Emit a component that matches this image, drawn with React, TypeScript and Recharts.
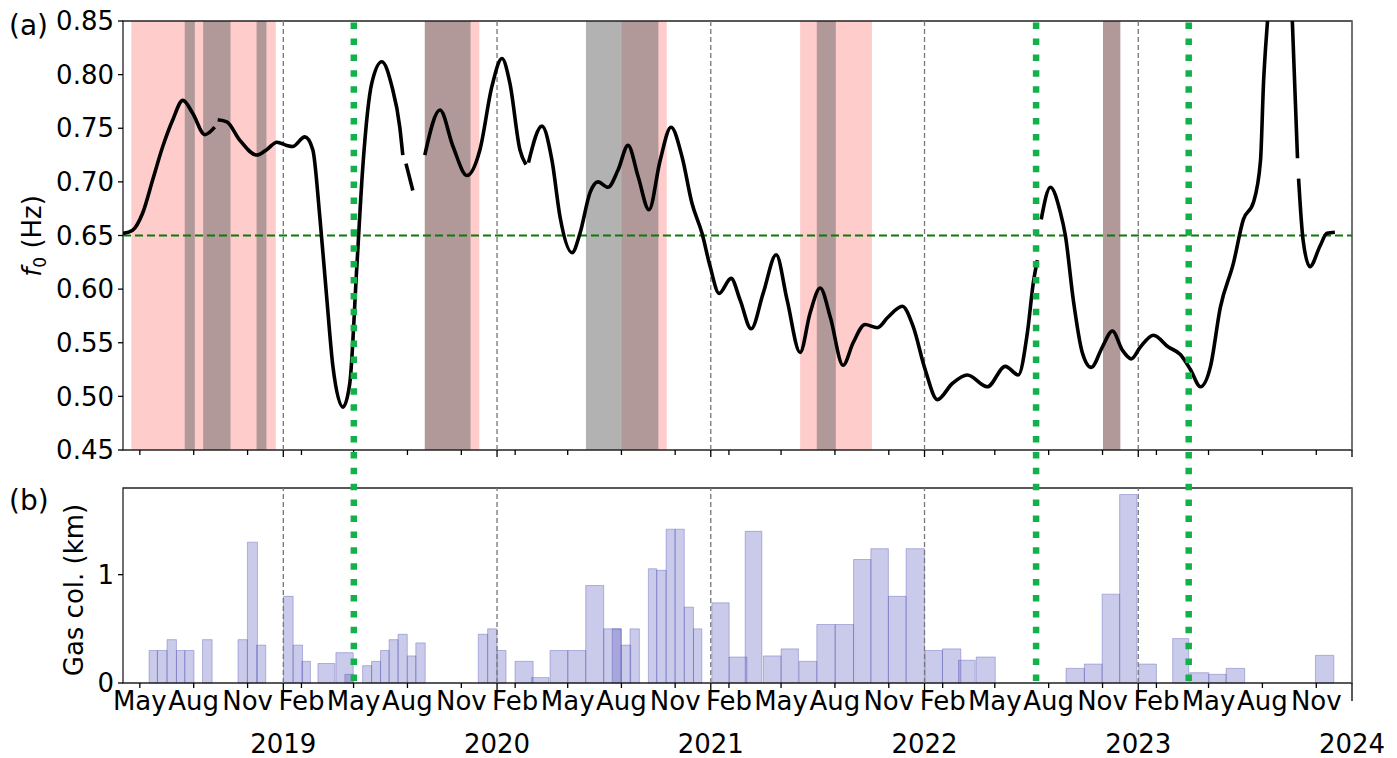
import React from "react";
import { ComposedChart, Line, XAxis, YAxis, ReferenceArea, ReferenceLine } from "recharts";

const FONT = "'DejaVu Sans', sans-serif";
const X_DOMAIN: [number, number] = [2018.25, 2024];

// f0 record, time in decimal years; null marks a break in the curve
const f0Time = [
  2018.25, 2018.295, 2018.342, 2018.389, 2018.436, 2018.483, 2018.53, 2018.576, 2018.633, 2018.679,
  2018.686, 2018.693, 2018.736, 2018.796, 2018.876, 2018.922, 2018.97, 2019.016, 2019.044, 2019.101,
  2019.138, 2019.171, 2019.204, 2019.232, 2019.279, 2019.311, 2019.344, 2019.372, 2019.414, 2019.461,
  2019.508, 2019.545, 2019.559, 2019.566, 2019.574, 2019.606, 2019.634, 2019.662, 2019.733, 2019.794,
  2019.859, 2019.92, 2019.976, 2020.023, 2020.06, 2020.107, 2020.135, 2020.14, 2020.147, 2020.21,
  2020.257, 2020.295, 2020.351, 2020.388, 2020.435, 2020.472, 2020.519, 2020.566, 2020.613, 2020.66,
  2020.711, 2020.763, 2020.814, 2020.866, 2020.912, 2020.959, 2020.997, 2021.039, 2021.095, 2021.137,
  2021.189, 2021.245, 2021.306, 2021.357, 2021.418, 2021.465, 2021.512, 2021.559, 2021.619, 2021.666,
  2021.722, 2021.779, 2021.83, 2021.896, 2021.947, 2022.003, 2022.06, 2022.13, 2022.2, 2022.294,
  2022.378, 2022.439, 2022.481, 2022.509, 2022.528, 2022.537, 2022.546, 2022.589, 2022.635, 2022.659,
  2022.696, 2022.738, 2022.78, 2022.832, 2022.879, 2022.926, 2022.968, 2023.01, 2023.071, 2023.141,
  2023.197, 2023.244, 2023.291, 2023.338, 2023.384, 2023.445, 2023.492, 2023.539, 2023.572, 2023.586,
  2023.604, 2023.637, 2023.665, 2023.698, 2023.721, 2023.745, 2023.747, 2023.75, 2023.771, 2023.803,
  2023.85, 2023.883, 2023.92,
];
const f0Hz = [
  0.652, 0.655, 0.671, 0.702, 0.733, 0.758, 0.776, 0.764, 0.744, 0.751,
  null, 0.758, 0.756, 0.739, 0.725, 0.73, 0.737, 0.734, 0.733, 0.742,
  0.73, 0.667, 0.59, 0.528, 0.49, 0.512, 0.621, 0.714, 0.792, 0.812,
  0.789, 0.751, 0.725, null, 0.717, 0.692, null, 0.725, 0.767, 0.733,
  0.706, 0.73, 0.789, 0.815, 0.792, 0.73, 0.716, null, 0.718, 0.752,
  0.72, 0.667, 0.634, 0.652, 0.69, 0.7, 0.695, 0.711, 0.734, 0.705,
  0.674, 0.72, 0.751, 0.723, 0.68, 0.652, 0.621, 0.596, 0.61, 0.59,
  0.563, 0.596, 0.632, 0.59, 0.541, 0.578, 0.601, 0.574, 0.529, 0.55,
  0.567, 0.564, 0.574, 0.584, 0.565, 0.525, 0.497, 0.512, 0.52, 0.509,
  0.528, 0.52, 0.559, 0.606, 0.627, null, 0.665, 0.695, 0.672, 0.65,
  0.59, 0.541, 0.527, 0.546, 0.561, 0.543, 0.535, 0.546, 0.557, 0.546,
  0.539, 0.525, 0.509, 0.528, 0.583, 0.624, 0.665, 0.681, 0.72, 0.792,
  0.848, 0.92, 0.94, 0.92, 0.849, 0.722, null, 0.703, 0.646, 0.621,
  0.64, 0.652, 0.653,
];

// gas column bars
const barStart = [
  2018.372, 2018.411, 2018.456, 2018.5, 2018.539, 2018.622, 2018.788, 2018.832, 2018.875, 2019.001,
  2019.046, 2019.087, 2019.162, 2019.246, 2019.288, 2019.371, 2019.413, 2019.455, 2019.495, 2019.537,
  2019.58, 2019.62, 2019.912, 2019.956, 2020.0, 2020.084, 2020.162, 2020.248, 2020.331, 2020.415,
  2020.499, 2020.539, 2020.581, 2020.622, 2020.708, 2020.747, 2020.791, 2020.833, 2020.876, 2020.919,
  2021.005, 2021.086, 2021.161, 2021.246, 2021.329, 2021.413, 2021.496, 2021.582, 2021.668, 2021.749,
  2021.831, 2021.914, 2022.003, 2022.084, 2022.159, 2022.242, 2022.662, 2022.748, 2022.831, 2022.913,
  2023.002, 2023.161, 2023.241, 2023.33, 2023.411, 2023.829,
];
const barEnd = [
  2018.411, 2018.456, 2018.5, 2018.539, 2018.582, 2018.667, 2018.832, 2018.879, 2018.918, 2019.046,
  2019.09, 2019.127, 2019.241, 2019.327, 2019.327, 2019.413, 2019.455, 2019.495, 2019.537, 2019.58,
  2019.62, 2019.664, 2019.956, 2020.0, 2020.042, 2020.169, 2020.243, 2020.331, 2020.415, 2020.499,
  2020.581, 2020.581, 2020.625, 2020.666, 2020.747, 2020.791, 2020.833, 2020.876, 2020.919, 2020.958,
  2021.086, 2021.169, 2021.239, 2021.329, 2021.41, 2021.496, 2021.582, 2021.668, 2021.749, 2021.831,
  2021.914, 2022.0, 2022.084, 2022.17, 2022.237, 2022.331, 2022.748, 2022.831, 2022.913, 2022.994,
  2023.085, 2023.236, 2023.33, 2023.411, 2023.498, 2023.915,
];
const gasCol = [
  0.3, 0.3, 0.4, 0.3, 0.3, 0.4, 0.4, 1.3, 0.35, 0.8,
  0.35, 0.2, 0.18, 0.28, 0.08, 0.16, 0.2, 0.3, 0.4, 0.45,
  0.25, 0.37, 0.45, 0.5, 0.3, 0.2, 0.05, 0.3, 0.3, 0.9,
  0.5, 0.5, 0.35, 0.5, 1.055, 1.04, 1.42, 1.42, 0.7, 0.5,
  0.74, 0.24, 1.4, 0.25, 0.315, 0.2, 0.54, 0.54, 1.14, 1.24,
  0.8, 1.24, 0.3, 0.315, 0.21, 0.24, 0.135, 0.175, 0.82, 1.74,
  0.175, 0.41, 0.095, 0.08, 0.135, 0.255,
];

// shaded periods
const pinkStart = [2018.289, 2019.662, 2020.583, 2021.418, 2022.835];
const pinkEnd = [2018.965, 2019.917, 2020.794, 2021.754, 2022.916];
const grayStart = [2018.539, 2018.625, 2018.875, 2019.662, 2020.416, 2021.496, 2022.835];
const grayEnd = [2018.586, 2018.753, 2018.921, 2019.876, 2020.755, 2021.585, 2022.916];

const eventTimes = [2019.33, 2022.522, 2023.236];

const yearTicks = [2019, 2020, 2021, 2022, 2023, 2024];
const monthLabels = ["Feb", "May", "Aug", "Nov"];
const monthNums = [2, 5, 8, 11];
const f0Ticks = [0.45, 0.5, 0.55, 0.6, 0.65, 0.7, 0.75, 0.8, 0.85];
const gasTicks = [0, 1];

function decYear(y: number, m: number) {
  const s = Date.UTC(y, 0, 1);
  return y + (Date.UTC(y, m - 1, 1) - s) / (Date.UTC(y + 1, 0, 1) - s);
}

const monthTicks: { t: number; label: string }[] = [];
for (let y = 2018; y <= 2023; y++) {
  monthNums.forEach((m, i) => {
    const t = decYear(y, m);
    if (t > X_DOMAIN[0]) monthTicks.push({ t, label: monthLabels[i] });
  });
}
const timeTicks = [...monthTicks.map((m) => m.t), ...yearTicks];
const labelOf = new Map(monthTicks.map((m) => [m.t, m.label]));

const f0Data = f0Time.map((t, i) => ({ t, f: f0Hz[i] }));
const gasData = gasCol.map((v, i) => ({ t: (barStart[i] + barEnd[i]) / 2, v }));
const eventData = eventTimes.map((t) => ({ t, v: 0.5 }));

function TimeTick({ x, y, payload, showLabels }: any) {
  const v = payload.value;
  const isYear = Number.isInteger(v);
  const len = isYear ? (showLabels ? 18 : 7) : 5;
  return (
    <g>
      <line x1={x} x2={x} y1={y} y2={y + len} stroke="#000" strokeWidth={1.3} />
      {showLabels && (
        <text x={x} y={isYear ? y + 70 : y + 27} textAnchor="middle"
          fontSize={26} fontFamily={FONT} fill="#000">
          {isYear ? v : labelOf.get(v)}
        </text>
      )}
    </g>
  );
}

const yTick = { fill: "#000", fontSize: 26, fontFamily: FONT };

export default function App() {
  return (
    <div style={{ position: "absolute", left: 0, top: 0, width: 1397, height: 758, background: "#fff" }}>
      {/* (a) f0 */}
      <div style={{ position: "absolute", left: 0, top: 0 }}>
        <ComposedChart width={1397} height={470} data={f0Data}
          margin={{ top: 21, right: 45, bottom: 0, left: 0 }}>
          {pinkStart.map((s, i) => (
            <ReferenceArea key={"p" + i} x1={s} x2={pinkEnd[i]} fill="#ff0000" fillOpacity={0.2} stroke="none" />
          ))}
          {grayStart.map((s, i) => (
            <ReferenceArea key={"g" + i} x1={s} x2={grayEnd[i]} fill="#666666" fillOpacity={0.5} stroke="none" />
          ))}
          <XAxis dataKey="t" type="number" domain={X_DOMAIN} allowDataOverflow ticks={timeTicks}
            interval={0} height={20} axisLine={false} tickLine={false} tickSize={0} tickMargin={0}
            tick={(p: any) => <TimeTick {...p} showLabels={false} />} />
          <YAxis type="number" domain={[0.45, 0.85]} allowDataOverflow ticks={f0Ticks} width={123}
            axisLine={false} tickSize={5} tickMargin={4} tick={yTick}
            tickLine={{ stroke: "#000", strokeWidth: 1.3 }} tickFormatter={(v: number) => v.toFixed(2)} />
          {yearTicks.map((y) => (
            <ReferenceLine key={y} x={y} stroke="#777" strokeWidth={1.3} strokeDasharray="5 3" />
          ))}
          <ReferenceLine y={0.65} stroke="#0a7a0a" strokeWidth={1.8} strokeDasharray="8 4" />
          <Line dataKey="f" type="monotone" stroke="#000" strokeWidth={3.6} dot={false}
            connectNulls={false} isAnimationActive={false} />
          <ReferenceArea x1={X_DOMAIN[0]} x2={X_DOMAIN[1]} fill="none" stroke="#222" strokeWidth={1.3} />
        </ComposedChart>
      </div>

      {/* (b) gas column */}
      <div style={{ position: "absolute", left: 0, top: 470 }}>
        <ComposedChart width={1397} height={288} data={gasData}
          margin={{ top: 18, right: 45, bottom: 0, left: 0 }}>
          <XAxis dataKey="t" type="number" domain={X_DOMAIN} allowDataOverflow ticks={timeTicks}
            interval={0} height={75} axisLine={false} tickLine={false} tickSize={0} tickMargin={0}
            tick={(p: any) => <TimeTick {...p} showLabels />} />
          <YAxis type="number" domain={[0, 1.8]} allowDataOverflow ticks={gasTicks} width={123}
            axisLine={false} tickSize={5} tickMargin={4} tick={yTick}
            tickLine={{ stroke: "#000", strokeWidth: 1.3 }} />
          {gasCol.map((v, i) => (
            <ReferenceArea key={"b" + i} x1={barStart[i]} x2={barEnd[i]} y1={0} y2={v}
              fill="#5a5ac0" fillOpacity={0.32} stroke="#4a4ab0" strokeOpacity={0.35} strokeWidth={1} />
          ))}
          {yearTicks.map((y) => (
            <ReferenceLine key={y} x={y} stroke="#777" strokeWidth={1.3} strokeDasharray="5 3" />
          ))}
          <ReferenceArea x1={X_DOMAIN[0]} x2={X_DOMAIN[1]} y1={0} y2={1.8} fill="none" stroke="#222" strokeWidth={1.3} />
        </ComposedChart>
      </div>

      {/* event lines across both panels */}
      <div style={{ position: "absolute", left: 0, top: 0, pointerEvents: "none" }}>
        <ComposedChart width={1397} height={758} data={eventData}
          margin={{ top: 21, right: 45, bottom: 77, left: 0 }}>
          <XAxis dataKey="t" type="number" domain={X_DOMAIN} allowDataOverflow height={0}
            tick={false} tickLine={false} axisLine={false} />
          <YAxis type="number" domain={[0, 1]} allowDataOverflow width={123}
            tick={false} tickLine={false} axisLine={false} />
          {eventTimes.map((t) => (
            <ReferenceLine key={t} x={t} stroke="#14b04b" strokeWidth={6.5} strokeDasharray="6.5 9.4" />
          ))}
        </ComposedChart>
      </div>

      <svg width={1397} height={758} style={{ position: "absolute", left: 0, top: 0, pointerEvents: "none" }}
        fontFamily={FONT} fill="#000">
        <text x={9} y={35} fontSize={28}>(a)</text>
        <text x={9} y={510} fontSize={28}>(b)</text>
        <text transform="translate(41,236) rotate(-90)" textAnchor="middle" fontSize={26}>
          <tspan fontStyle="italic">f</tspan>
          <tspan fontSize={17} dy={5}>0</tspan>
          <tspan dy={-5}> (Hz)</tspan>
        </text>
        <text transform="translate(83,590) rotate(-90)" textAnchor="middle" fontSize={26}>
          Gas col. (km)
        </text>
      </svg>
    </div>
  );
}
